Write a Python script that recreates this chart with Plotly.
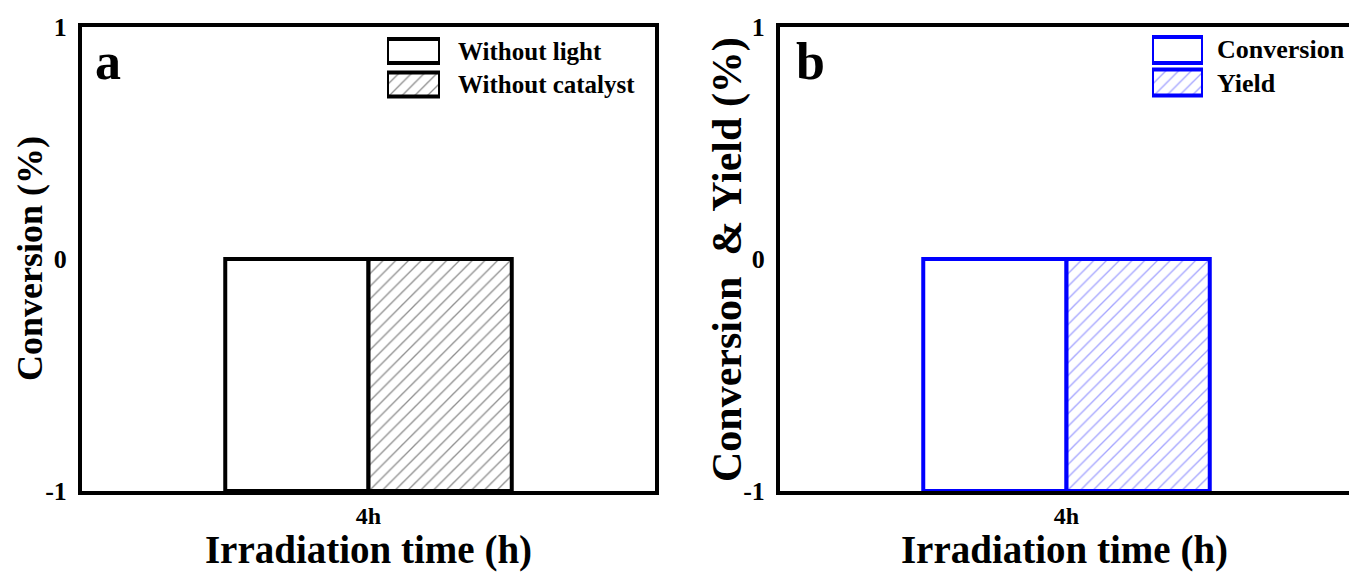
import plotly.graph_objects as go

# ---- data -------------------------------------------------------------
categories = ["4h"]
series_a_names = ["Without light", "Without catalyst"]
conv_without_light = [0]
conv_without_catalyst = [0]

series_b_names = ["Conversion", "Yield"]
conversion_b = [0]
yield_b = [0]

y_ticks = [-1, 0, 1]
y_ticklabels = ["-1", "0", "1"]
Y_MIN, Y_MAX = -1, 1

# ---- style ------------------------------------------------------------
W, H = 1349, 572
FONT = "Liberation Serif"
BLACK = "#000000"
BLUE = "#0000FF"
GREY_HATCH = "#222222"
BLUE_HATCH = "#4a4aff"


def px(x):
    return x / W


def py(y):
    return 1 - y / H


def from_axis_floor(vals):
    # bars rise from the bottom of the value axis up to each value
    return [v - Y_MIN for v in vals]


def hatch(color):
    return dict(shape="/", size=9, solidity=0.15, fgcolor=color,
                bgcolor="white")


fig = go.Figure()

# panel a
fig.add_trace(go.Bar(
    x=categories, y=from_axis_floor(conv_without_light), base=Y_MIN,
    name=series_a_names[0], xaxis="x", yaxis="y",
    marker=dict(color="white", line=dict(color=BLACK, width=4)),
    showlegend=False))
fig.add_trace(go.Bar(
    x=categories, y=from_axis_floor(conv_without_catalyst), base=Y_MIN,
    name=series_a_names[1], xaxis="x", yaxis="y",
    marker=dict(color="white", line=dict(color=BLACK, width=4),
                pattern=hatch(GREY_HATCH)),
    showlegend=False))

# panel b
fig.add_trace(go.Bar(
    x=categories, y=from_axis_floor(conversion_b), base=Y_MIN,
    name=series_b_names[0], xaxis="x2", yaxis="y2",
    marker=dict(color="white", line=dict(color=BLUE, width=4)),
    showlegend=False))
fig.add_trace(go.Bar(
    x=categories, y=from_axis_floor(yield_b), base=Y_MIN,
    name=series_b_names[1], xaxis="x2", yaxis="y2",
    marker=dict(color="white", line=dict(color=BLUE, width=4),
                pattern=hatch(BLUE_HATCH)),
    showlegend=False))


# legend keys, drawn as boxed bars on small overlay axes
def key(name, xa, ya, color, height, pattern_color=None):
    marker = dict(color="white", line=dict(color=color, width=4))
    if pattern_color:
        marker["pattern"] = hatch(pattern_color)
    return go.Bar(x=[1], y=[name], orientation="h", xaxis=xa, yaxis=ya,
                  width=height, offset=-height / 2, marker=marker,
                  showlegend=False, hoverinfo="skip")


fig.add_trace(key(series_a_names[0], "x3", "y3", BLACK, 0.72))
fig.add_trace(key(series_a_names[1], "x3", "y3", BLACK, 0.72, GREY_HATCH))
fig.add_trace(key(series_b_names[0], "x4", "y4", BLUE, 0.8))
fig.add_trace(key(series_b_names[1], "x4", "y4", BLUE, 0.8, BLUE_HATCH))

tick_font = dict(family=FONT, size=26, color=BLACK, weight="bold")
title_font = dict(family=FONT, size=39, color=BLACK, weight="bold")

common_x = dict(type="category", showgrid=False, zeroline=False,
                showline=True, linecolor=BLACK, linewidth=4, ticks="",
                tickfont=dict(family=FONT, size=24, color=BLACK, weight="bold"),
                title=dict(text="Irradiation time (h)", font=title_font,
                           standoff=0),
                mirror=True, fixedrange=True)
common_y = dict(range=[Y_MIN, Y_MAX], tickvals=y_ticks,
                ticktext=y_ticklabels, showgrid=False, zeroline=False,
                showline=True, linecolor=BLACK, linewidth=4, ticks="",
                tickfont=tick_font, ticklabelstandoff=6, fixedrange=True)

hidden = dict(showgrid=False, zeroline=False, showline=False,
              showticklabels=False, ticks="", fixedrange=True)

fig.update_layout(
    width=W, height=H,
    margin=dict(l=0, r=0, t=0, b=0, autoexpand=False),
    paper_bgcolor="white", plot_bgcolor="white",
    barmode="group", bargap=0.5, bargroupgap=0,
    showlegend=False,
    xaxis=dict(common_x, domain=[px(82), px(655)], anchor="y",
               range=[-0.5, 0.5]),
    yaxis=dict(common_y, domain=[py(491), py(27)], anchor="x", mirror=True),
    xaxis2=dict(common_x, domain=[px(780), 1], anchor="y2",
                range=[-0.5, 0.493]),
    yaxis2=dict(common_y, domain=[py(491), py(27)], anchor="x2",
                mirror=False),
    xaxis3=dict(hidden, domain=[px(387), px(440)], anchor="y3",
                range=[0, 1]),
    yaxis3=dict(hidden, domain=[py(101.25), py(34.25)], anchor="x3",
                type="category", categoryarray=series_a_names[::-1],
                categoryorder="array", range=[-0.5, 1.5]),
    xaxis4=dict(hidden, domain=[px(1152), px(1203)], anchor="y4",
                range=[0, 1]),
    yaxis4=dict(hidden, domain=[py(98.75), py(33.75)], anchor="x4",
                type="category", categoryarray=series_b_names[::-1],
                categoryorder="array", range=[-0.5, 1.5]),
)

legend_font = dict(family=FONT, size=25, color=BLACK, weight="bold")
annotations = []
for name, ypix in zip(series_a_names, [51, 84]):
    annotations.append(dict(text=name, x=px(456), y=py(ypix), xref="paper",
                            yref="paper", xanchor="left", yanchor="middle",
                            showarrow=False, font=legend_font))
for name, ypix in zip(series_b_names, [50, 83]):
    annotations.append(dict(text=name, x=px(1215), y=py(ypix), xref="paper",
                            yref="paper", xanchor="left", yanchor="middle",
                            showarrow=False, font=dict(legend_font, size=26)))

# y-axis titles
annotations.append(dict(text="Conversion (%)", x=px(30), y=py(259),
                        xref="paper", yref="paper", textangle=-90,
                        xanchor="center", yanchor="middle",
                        showarrow=False,
                        font=dict(family=FONT, size=36, color=BLACK,
                                  weight="bold")))
annotations.append(dict(text="Conversion &#160;&amp; Yield (%)", x=px(727),
                        y=py(260), xref="paper", yref="paper",
                        textangle=-90, xanchor="center", yanchor="middle",
                        showarrow=False,
                        font=dict(family=FONT, size=42, color=BLACK,
                                  weight="bold")))

panel_font = dict(family=FONT, size=52, color=BLACK, weight="bold")
annotations.append(dict(text="a", x=px(93), y=py(62), xref="paper",
                        yref="paper", xanchor="left", yanchor="middle",
                        showarrow=False, font=panel_font))
annotations.append(dict(text="b", x=px(794), y=py(62), xref="paper",
                        yref="paper", xanchor="left", yanchor="middle",
                        showarrow=False, font=panel_font))
fig.update_layout(annotations=annotations)

fig.write_html("out.html", config={"displayModeBar": False})
